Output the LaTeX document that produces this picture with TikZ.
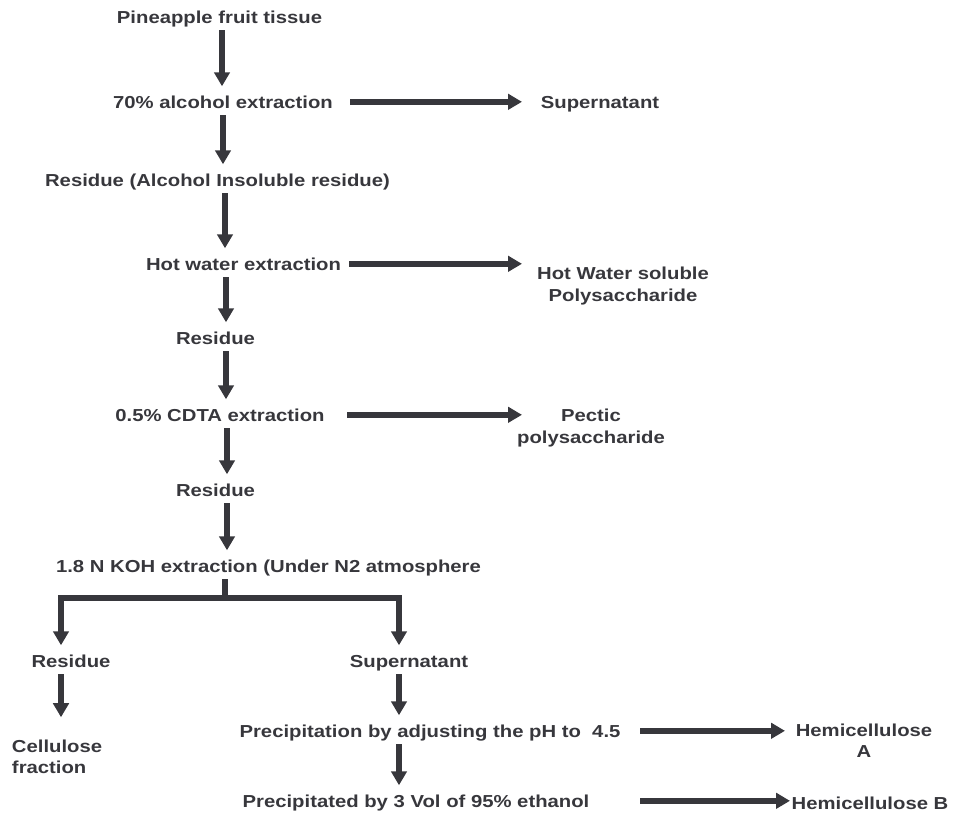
\documentclass[tikz,border=0pt]{standalone}
\usepackage{fontspec}
\setmainfont{Liberation Sans}[FakeStretch=1.17]
\usetikzlibrary{arrows.meta}
\definecolor{ink}{RGB}{55,55,60}
\begin{document}
\begin{tikzpicture}[x=0.75pt,y=-0.75pt,
  lbl/.style={inner sep=0pt, outer sep=0pt, text=ink,
    font=\fontsize{13pt}{16.2pt}\selectfont\bfseries,
    text height=9.3pt, text depth=0pt, anchor=base},
  lbl2/.style={inner sep=0pt, outer sep=0pt, text=ink,
    font=\fontsize{13pt}{16.2pt}\selectfont\bfseries,
    align=center, anchor=north},
  arr/.style={draw=ink, line width=4.5pt, -{Triangle[width=11.5pt,length=10.5pt]}},
  varr/.style={arr, shorten <=5.5pt, shorten >=7pt},
  bar/.style={draw=ink, line width=4.5pt}
]
\useasboundingbox (0,0) rectangle (953,815);

% nodes
\node[lbl] (pft) at (219.5,23) {Pineapple fruit tissue};
\node[lbl] (alc) at (223,108) {70\% alcohol extraction};
\node[lbl] (sup1) at (600,108) {Supernatant};
\node[lbl] (air) at (217.5,186) {Residue (Alcohol Insoluble residue)};
\node[lbl] (hwe) at (243.5,270) {Hot water extraction};
\node[lbl2] (hws) at (623,267) {Hot Water soluble\\Polysaccharide};
\node[lbl] (res1) at (215.5,344) {Residue};
\node[lbl] (cdta) at (220,421) {0.5\% CDTA extraction};
\node[lbl2] (pec) at (591,409.3) {Pectic\\polysaccharide};
\node[lbl] (res2) at (215.5,496) {Residue};
\node[lbl] (koh) at (268.5,572) {1.8 N KOH extraction (Under N2 atmosphere};
\node[lbl] (res3) at (71,667) {Residue};
\node[lbl] (sup2) at (409,667) {Supernatant};
\node[lbl2, align=left, anchor=north west] (cel) at (12,739.5) {Cellulose\\fraction};
\node[lbl] (pph) at (430,737) {Precipitation by adjusting the pH to\ \ 4.5};
\node[lbl2] (hema) at (864,723.5) {Hemicellulose\\A};
\node[lbl] (ppe) at (416,807) {Precipitated by 3 Vol of 95\% ethanol};
\node[lbl] (hemb) at (870,809) {Hemicellulose B};

% arrow columns
\coordinate (c1) at (222,0);
\coordinate (c2) at (223,0);
\coordinate (c3) at (225,0);
\coordinate (c4) at (226,0);
\coordinate (c5) at (226,0);
\coordinate (c6) at (227,0);
\coordinate (c7) at (227,0);
\coordinate (hs1) at (350,0);
\coordinate (hs2) at (349,0);
\coordinate (hs3) at (347,0);
\coordinate (ht) at (522,0);
\coordinate (hs4) at (640,0);
\coordinate (ht4) at (785,0);
\coordinate (ht5) at (790,0);
\coordinate (bt) at (225,598);
\coordinate (bl) at (61,598);
\coordinate (br) at (399,598);

% vertical arrows
\draw[varr] (pft.south -| c1) -- (alc.north -| c1);
\draw[varr] (alc.south -| c2) -- (air.north -| c2);
\draw[varr] (air.south -| c3) -- (hwe.north -| c3);
\draw[varr] (hwe.south -| c4) -- (res1.north -| c4);
\draw[varr] (res1.south -| c5) -- (cdta.north -| c5);
\draw[varr] (cdta.south -| c6) -- (res2.north -| c6);
\draw[varr] (res2.south -| c7) -- (koh.north -| c7);

% horizontal arrows
\draw[arr] (alc.east -| hs1) -- (alc.east -| ht);
\draw[arr] (hwe.east -| hs2) -- (hwe.east -| ht);
\draw[arr] (cdta.east -| hs3) -- (cdta.east -| ht);
\draw[arr] (pph.east -| hs4) -- (pph.east -| ht4);
\draw[arr] (ppe.east -| hs4) -- (ppe.east -| ht5);

% branch
\draw[bar, shorten <=5.5pt] (koh.south -| bt) -- (bt);
\draw[bar, line cap=rect] (bl) -- (br);
\draw[arr, shorten >=7pt] (bl) -- (res3.north -| bl);
\draw[arr, shorten >=7pt] (br) -- (sup2.north -| br);
\draw[varr, shorten >=16.7pt] (res3.south -| bl) -- (cel.north -| bl);
\draw[varr] (sup2.south -| br) -- (pph.north -| br);
\draw[varr] (pph.south -| br) -- (ppe.north -| br);
\end{tikzpicture}
\end{document}
